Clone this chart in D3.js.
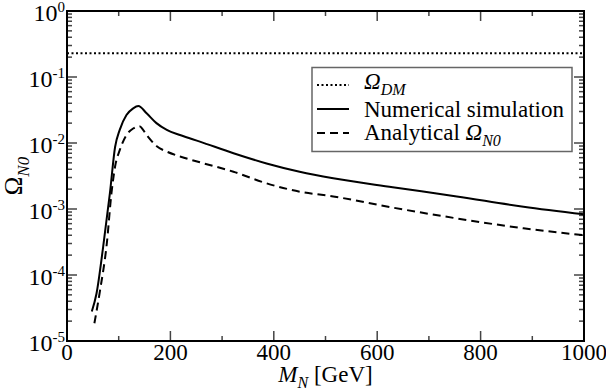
<!DOCTYPE html>
<html>
<head>
<meta charset="utf-8">
<script src="https://cdn.jsdelivr.net/npm/d3@7"></script>
<style>
  body { margin: 0; background: #fff; }
</style>
</head>
<body>
<div id="chart"></div>
<script>
// numerical simulation, Omega_N0 vs M_N (GeV)
const massSim  = [48, 57, 70, 83, 93, 102, 115, 128, 138, 154, 173, 193, 220, 257, 322, 386, 450, 515, 630, 754, 883, 1000];
const omegaSim = [2.8e-5, 5.2e-5, 2.7e-4, 1.74e-3, 8.7e-3, 0.0158, 0.0265, 0.0335, 0.0363, 0.0282, 0.020, 0.0158,
                  0.0131, 0.0105, 0.0070, 0.0049, 0.00367, 0.00292, 0.00214, 0.00155, 0.00108, 0.00083];
// analytical estimate
const massAna  = [53, 64, 77, 86, 93, 102, 115, 128, 140, 154, 173, 193, 220, 257, 322, 386, 450, 515, 630, 754, 883, 1000];
const omegaAna = [1.86e-5, 5.9e-5, 3.0e-4, 1.74e-3, 4.4e-3, 7.8e-3, 0.0132, 0.0166, 0.018, 0.0132, 0.0090, 0.0074,
                  0.0062, 0.0051, 0.00367, 0.00245, 0.00183, 0.00155, 0.00105, 7.2e-4, 5.1e-4, 4.0e-4];
const omegaDM = 0.23;

const xTicks = [0, 200, 400, 600, 800, 1000];
const xMinor = [100, 300, 500, 700, 900];
const yExps = [0, -1, -2, -3, -4, -5];

const width = 606, height = 390;
const margin = { top: 11, right: 22, bottom: 49, left: 67 };
const iw = width - margin.left - margin.right;
const ih = height - margin.top - margin.bottom;
const serif = "Liberation Serif";

const svg = d3.select("#chart").append("svg")
    .attr("width", width)
    .attr("height", height);

const g = svg.append("g")
    .attr("transform", "translate(" + margin.left + "," + margin.top + ")");

const x = d3.scaleLinear().domain([0, 1000]).range([0, iw]);
const y = d3.scaleLog().domain([1e-5, 1]).range([ih, 0]);

// minor log ticks
let yMinor = [];
for (let e = -5; e < 0; e++) {
    for (let m = 2; m <= 9; m++) yMinor.push(m * Math.pow(10, e));
}

function tickLines(vals, len, horiz) {
    vals.forEach(v => {
        if (horiz) {
            let yy = y(v);
            g.append("line").attr("x1", 0).attr("x2", len).attr("y1", yy).attr("y2", yy);
            g.append("line").attr("x1", iw).attr("x2", iw - len).attr("y1", yy).attr("y2", yy);
        } else {
            let xx = x(v);
            g.append("line").attr("x1", xx).attr("x2", xx).attr("y1", ih).attr("y2", ih - len);
            g.append("line").attr("x1", xx).attr("x2", xx).attr("y1", 0).attr("y2", len);
        }
    });
}
tickLines(xTicks, 10, false);
tickLines(xMinor, 5, false);
tickLines(yExps.map(e => Math.pow(10, e)), 10, true);
tickLines(yMinor, 5, true);
g.selectAll("line").attr("stroke", "#444").attr("stroke-width", 1.5);

// dotted Omega_DM line
g.append("line")
    .attr("x1", 0).attr("x2", iw)
    .attr("y1", y(omegaDM)).attr("y2", y(omegaDM))
    .attr("stroke", "#000")
    .attr("stroke-width", 2)
    .attr("stroke-dasharray", "2,2.5");

const line = d3.line()
    .x(d => x(d[0]))
    .y(d => y(d[1]))
    .curve(d3.curveMonotoneX);

g.append("path")
    .datum(massSim.map((m, i) => [m, omegaSim[i]]))
    .attr("d", line)
    .attr("fill", "none")
    .attr("stroke", "#000")
    .attr("stroke-width", 2);

g.append("path")
    .datum(massAna.map((m, i) => [m, omegaAna[i]]))
    .attr("d", line)
    .attr("fill", "none")
    .attr("stroke", "#000")
    .attr("stroke-width", 2)
    .attr("stroke-dasharray", "8,5");

// frame
g.append("rect")
    .attr("width", iw).attr("height", ih)
    .attr("fill", "none")
    .attr("stroke", "#000")
    .attr("stroke-width", 2);

// x tick labels
xTicks.forEach(v => {
    g.append("text")
        .attr("x", x(v))
        .attr("y", ih + 19)
        .attr("text-anchor", "middle")
        .attr("font-family", serif)
        .attr("font-size", 23)
        .text(v);
});

// y tick labels 10^e
yExps.forEach(e => {
    let t = svg.append("text")
        .attr("x", 65)
        .attr("y", margin.top + y(Math.pow(10, e)) + 10)
        .attr("text-anchor", "end")
        .attr("font-family", serif)
        .attr("font-size", 24);
    t.append("tspan").text("10");
    t.append("tspan").attr("dy", -9).attr("font-size", 15).text(e);
});

// x axis title
let xt = svg.append("text")
    .attr("x", margin.left + iw / 2)
    .attr("y", 382)
    .attr("text-anchor", "middle")
    .attr("font-family", serif)
    .attr("font-size", 23);
xt.append("tspan").attr("font-style", "italic").text("M");
xt.append("tspan").attr("dy", 6).attr("font-style", "italic").attr("font-size", 16).text("N");
xt.append("tspan").attr("dy", -6).text(" [GeV]");

// y axis title
let yt = svg.append("text")
    .attr("transform", "translate(22,176)rotate(-90)")
    .attr("text-anchor", "middle")
    .attr("font-family", serif)
    .attr("font-size", 25);
yt.append("tspan").text("Ω");
yt.append("tspan").attr("dy", 7).attr("font-style", "italic").attr("font-size", 17).text("N0");

// legend
const lg = svg.append("g");
lg.append("rect")
    .attr("x", 312).attr("y", 67.5)
    .attr("width", 260).attr("height", 84)
    .attr("fill", "#fff")
    .attr("stroke", "#666")
    .attr("stroke-width", 1.5);

const legendRows = [
    { dash: "2,2.5", main: "Ω", sub: "DM", pre: "", cy: 85, ty: 89 },
    { dash: null, main: "Numerical simulation", sub: "", pre: "", cy: 109, ty: 117 },
    { dash: "8,5", main: "Ω", sub: "N0", pre: "Analytical ", cy: 133, ty: 140 }
];
legendRows.forEach(r => {
    let l = lg.append("line")
        .attr("x1", 317).attr("x2", 349)
        .attr("y1", r.cy).attr("y2", r.cy)
        .attr("stroke", "#000")
        .attr("stroke-width", 2);
    if (r.dash) l.attr("stroke-dasharray", r.dash);
    let t = lg.append("text")
        .attr("x", 364)
        .attr("y", r.ty)
        .attr("font-family", serif)
        .attr("font-size", 23);
    if (r.sub) {
        if (r.pre) t.append("tspan").text(r.pre);
        t.append("tspan").attr("font-style", "italic").text(r.main);
        t.append("tspan").attr("dy", 6).attr("font-style", "italic").attr("font-size", 16).text(r.sub);
    } else {
        t.text(r.main);
    }
});
</script>
</body>
</html>
